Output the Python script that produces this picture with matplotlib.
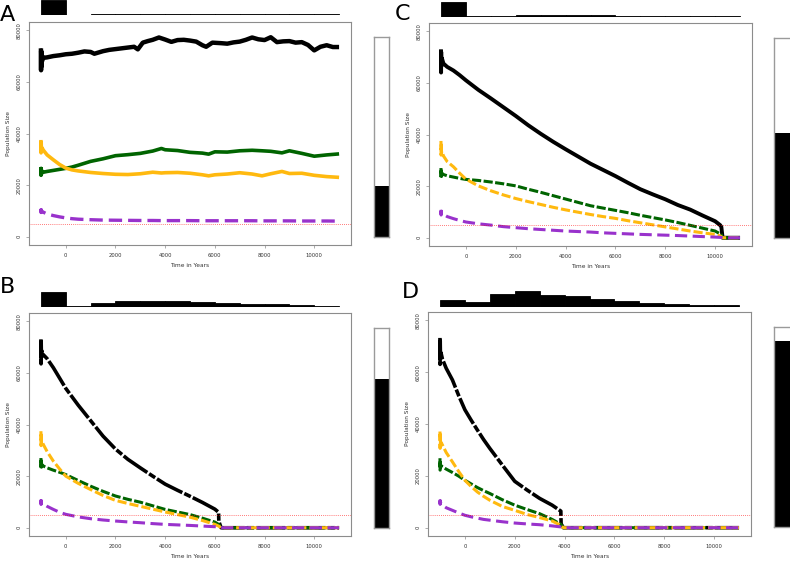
import matplotlib
matplotlib.use("Agg")
import matplotlib.pyplot as plt
import numpy as np

# ---- data ----
bin_edges = [-1000, 0, 1000, 2000, 3000, 4000, 5000, 6000, 7000, 8000, 9000, 10000, 11000]

# top histograms (relative heights, one per 1000-year bin)
a_hist = [100, 3, 6, 6, 6, 6, 6, 6, 6, 6, 6, 6]
b_hist = [100, 9, 29, 40, 40, 40, 31, 25, 18, 18, 13, 9]
c_hist = [100, 4, 7, 12, 12, 12, 12, 4, 7, 7, 7, 7]
d_hist = [42, 31, 83, 100, 77, 67, 48, 35, 27, 19, 15, 10]

# side bars: share of black fill
side_share = {"A": 0.255, "B": 0.745, "C": 0.525, "D": 0.93}

threshold = 5000

# panel A
a_black_years = [-1000, -995, -990, -980, -970, -955, -930, -900, -750, -500, -250, 0, 250, 500, 750,
                 1000, 1150, 1500, 1750, 2000, 2250, 2500, 2750, 2900, 3100, 3300, 3500, 3750,
                 4000, 4250, 4500, 4750, 5000, 5250, 5500, 5650, 5900, 6250, 6500, 6750, 7000,
                 7250, 7500, 7750, 8000, 8250, 8500, 8750, 9000, 9250, 9500, 9750, 10000, 10250,
                 10500, 10750, 11000]
a_black = [73000, 64500, 72000, 66000, 70500, 68000, 69600, 69300, 69500, 70000, 70300, 70700, 70900,
           71300, 71800, 71600, 70900, 71900, 72400, 72700, 73000, 73300, 73600, 72600, 75200,
           75800, 76300, 77200, 76400, 75500, 76200, 76300, 76000, 75600, 74200, 73600, 75200,
           75000, 74800, 75300, 75600, 76300, 77200, 76500, 76200, 77300, 75400, 75700, 75800,
           75200, 75400, 74300, 72200, 73600, 74200, 73500, 73500]

a_years = [-1000, -995, -990, -980, -960, -900, -750, -500, -250, 0, 250, 500, 1000, 1500, 2000,
           2500, 3000, 3500, 3850, 4000, 4500, 5000, 5500, 5750, 6000, 6500, 7000, 7500, 7900,
           8250, 8700, 9000, 9500, 10000, 10500, 11000]
a_green = [27000, 23800, 26500, 24200, 25500, 25000, 25300, 25700, 26100, 26500, 27000, 27700,
           29200, 30200, 31400, 31800, 32300, 33200, 34200, 33700, 33400, 32700, 32400, 32000,
           32900, 32800, 33300, 33500, 33300, 33100, 32500, 33300, 32300, 31200, 31700, 32100]
a_orange = [37500, 32500, 36500, 33500, 34500, 33500, 31700, 29800, 28000, 26600, 25900, 25500,
            24900, 24500, 24200, 24100, 24400, 25000, 24700, 24800, 24900, 24600, 24000, 23600,
            24000, 24300, 24800, 24300, 23600, 24400, 25300, 24500, 24600, 23800, 23300, 23000]
a_purple = [10800, 9400, 10500, 9700, 9900, 9500, 8800, 8200, 7700, 7300, 7000, 6800, 6600, 6450,
            6400, 6350, 6300, 6300, 6250, 6250, 6250, 6250, 6200, 6200, 6200, 6200, 6200, 6200,
            6150, 6150, 6150, 6150, 6100, 6100, 6100, 6050]

# panel B
b_years = [-1000, -995, -990, -980, -960, -900, -750, -500, -250, 0, 500, 1000, 1500, 2000, 2500,
           3000, 3500, 4000, 4500, 5000, 5500, 6000, 6150, 6160, 6250, 11000]
b_black = [73000, 63500, 72000, 66000, 68500, 67000, 65500, 62000, 58000, 54000, 47500, 41500,
           35500, 30500, 26500, 23200, 20000, 16900, 14500, 12200, 9800, 7200, 6000, 2500, 0, 0]
b_green = [27000, 22800, 26000, 23500, 24500, 23900, 23200, 22300, 21500, 20600, 18300, 16100,
           14100, 12300, 11000, 9900, 8500, 7100, 6100, 5100, 3700, 2200, 1300, 1200, 0, 0]
b_orange = [37400, 31800, 36000, 33000, 33500, 32200, 29500, 25800, 22800, 20000, 17200, 14800,
            12500, 10600, 9400, 8300, 7200, 6100, 5100, 4100, 2800, 1300, 650, 600, 0, 0]
b_purple = [10900, 9000, 10500, 9500, 9700, 9300, 8300, 7100, 6000, 5200, 4200, 3500, 3000, 2600,
            2250, 1950, 1600, 1300, 1100, 900, 650, 400, 300, 300, 0, 0]

# panel C
c_years = [-1000, -995, -990, -980, -960, -900, -750, -500, -250, 0, 500, 1000, 1500, 2000, 2500,
           3000, 3500, 4000, 4500, 5000, 5500, 6000, 6500, 7000, 7500, 8000, 8500, 9000, 9500,
           10000, 10200, 10250, 10300, 11000]
c_black = [73000, 64000, 72000, 66500, 69500, 67500, 66200, 64800, 63000, 61000, 57300, 54000,
           50600, 47200, 43600, 40300, 37200, 34300, 31500, 28700, 26300, 23900, 21300, 18800,
           16800, 14900, 12700, 10900, 8600, 6400, 4900, 4200, 0, 0]
c_green = [27000, 23000, 26000, 23800, 25000, 24500, 24000, 23500, 23000, 22600, 22200, 21600,
           20900, 20100, 18800, 17600, 16300, 15000, 13700, 12400, 11500, 10600, 9700, 8700,
           7800, 6900, 5900, 4800, 3700, 2600, 1500, 1200, 0, 0]
c_orange = [37500, 32000, 36000, 33000, 33500, 31700, 29500, 27500, 25000, 22700, 20100, 18200,
            16600, 15200, 14000, 12900, 11800, 10800, 9900, 9000, 8200, 7500, 6600, 5800, 5000,
            4200, 3400, 2600, 1900, 1300, 700, 400, 0, 0]
c_purple = [10800, 8800, 10300, 9200, 9500, 9100, 8200, 7400, 6700, 6100, 5400, 4900, 4300, 3900,
            3500, 3200, 2900, 2600, 2400, 2200, 1900, 1700, 1500, 1300, 1150, 1000, 850, 650,
            450, 250, 150, 100, 0, 0]

# panel D
d_years = [-1000, -995, -990, -980, -960, -900, -750, -500, -250, 0, 250, 500, 750, 1000, 1500,
           2000, 2500, 3000, 3500, 3850, 3860, 3950, 11000]
d_black = [73200, 63000, 72000, 65500, 67500, 65000, 61500, 57000, 51000, 45500, 41500, 37700,
           34000, 30600, 24200, 17900, 14500, 11300, 8700, 6400, 1500, 0, 0]
d_green = [26800, 22200, 25800, 23200, 24000, 23500, 22600, 21300, 19900, 18300, 16900, 15500,
           14300, 13200, 10800, 8700, 7000, 5400, 3200, 1300, 1200, 0, 0]
d_orange = [37100, 30600, 36000, 32500, 33000, 31900, 29000, 25400, 21700, 18300, 15900, 13800,
            12100, 10600, 8200, 6700, 5100, 3900, 2600, 900, 800, 0, 0]
d_purple = [10800, 9000, 10400, 9300, 9500, 8700, 7700, 6700, 5700, 4800, 4200, 3700, 3200, 2900,
            2300, 1800, 1450, 1150, 700, 300, 250, 0, 0]

x_ticks = [0, 2000, 4000, 6000, 8000, 10000]
y_ticks = [0, 20000, 40000, 60000, 80000]

BLACK = "black"
GREEN = "#006400"
ORANGE = "#FFB90F"
PURPLE = "#9932CC"
BOX = "#8c8c8c"

W, H = 790, 561


def rect(x0, y0, x1, y1):
    # pixel box (top-left origin) -> figure fraction rect
    return [x0 / W, 1 - y1 / H, (x1 - x0) / W, (y1 - y0) / H]


def draw_main(ax, series):
    for xs, ys, color, lw, ls in series:
        ax.plot(xs, ys, color=color, lw=lw, linestyle=ls, solid_capstyle="butt",
                dash_capstyle="butt")
    ax.axhline(threshold, color="red", lw=0.6, linestyle=(0, (1, 1.5)), alpha=0.7)
    ax.set_xlim(-1480, 11480)
    ax.set_ylim(-3200, 83200)
    ax.set_xticks(x_ticks)
    ax.set_yticks(y_ticks)
    ax.set_xticklabels([str(t) for t in x_ticks])
    ax.set_yticklabels([str(t) for t in y_ticks], rotation=90, va="center")
    ax.tick_params(direction="out", length=2.5, width=0.5, color=BOX, labelsize=3.8,
                   labelcolor="#333333", pad=3)
    for s in ax.spines.values():
        s.set_color(BOX)
        s.set_linewidth(0.8)
    ax.set_xlabel("Time in Years", fontsize=4.2, color="#333333", labelpad=4)
    ax.set_ylabel("Population Size", fontsize=4.2, color="#333333", labelpad=4)


def draw_hist(ax, heights):
    ax.bar(bin_edges[:-1], heights, width=1000, align="edge", color="black",
           edgecolor="black", linewidth=0.6)
    ax.set_xlim(-1480, 11480)
    ax.set_ylim(0, 100)
    ax.axis("off")


def draw_side(ax, share):
    ax.bar([0], [share], width=1, color="black", align="edge")
    ax.set_xlim(0, 1)
    ax.set_ylim(0, 1)
    ax.set_xticks([])
    ax.set_yticks([])
    for s in ax.spines.values():
        s.set_color("#9a9a9a")
        s.set_linewidth(1.0)


solid = "-"
dash_g = (0, (3.0, 0.8))
dash_o = (0, (3.0, 1.0))
dash_p = (0, (4.0, 1.8))
dash_k = (0, (8.0, 0.6, 2.0, 0.6))

fig = plt.figure(figsize=(W / 100, H / 100), dpi=100)

panels = [
    ("A", (29, 22, 351, 245), (0, 15), (374, 37, 389, 237), (0, 21),
     [(a_black_years, a_black, BLACK, 3.2, solid),
      (a_years, a_green, GREEN, 2.6, solid),
      (a_years, a_orange, ORANGE, 2.6, solid),
      (a_years, a_purple, PURPLE, 2.4, dash_p)], a_hist),
    ("B", (29, 313, 351, 536), (292, 307), (374, 328, 389, 528), (0, 293),
     [(b_years, b_black, BLACK, 2.6, dash_k),
      (b_years, b_green, GREEN, 2.2, dash_g),
      (b_years, b_orange, ORANGE, 2.2, dash_o),
      (b_years, b_purple, PURPLE, 2.2, dash_p)], b_hist),
    ("C", (429, 23, 752, 246), (2, 17), (774, 38, 791, 238), (395, 20),
     [(c_years, c_black, BLACK, 2.8, solid),
      (c_years, c_green, GREEN, 2.2, dash_g),
      (c_years, c_orange, ORANGE, 2.2, dash_o),
      (c_years, c_purple, PURPLE, 2.2, dash_p)], c_hist),
    ("D", (428, 312, 751, 536), (291, 307), (774, 327, 791, 527), (402, 298),
     [(d_years, d_black, BLACK, 2.6, dash_k),
      (d_years, d_green, GREEN, 2.2, dash_g),
      (d_years, d_orange, ORANGE, 2.2, dash_o),
      (d_years, d_purple, PURPLE, 2.2, dash_p)], d_hist),
]

for letter, main_box, hist_rows, side_box, label_pos, series, hist in panels:
    ax = fig.add_axes(rect(*main_box))
    draw_main(ax, series)
    # histogram shares the x scale of the main panel
    hax = fig.add_axes(rect(main_box[0], hist_rows[0], main_box[2], hist_rows[1]))
    draw_hist(hax, hist)
    sax = fig.add_axes(rect(*side_box))
    draw_side(sax, side_share[letter])
    fig.text(label_pos[0] / W, 1 - label_pos[1] / H, letter, fontsize=16,
             ha="left", va="baseline", family="DejaVu Sans")

fig.savefig("out.png", dpi=100)
